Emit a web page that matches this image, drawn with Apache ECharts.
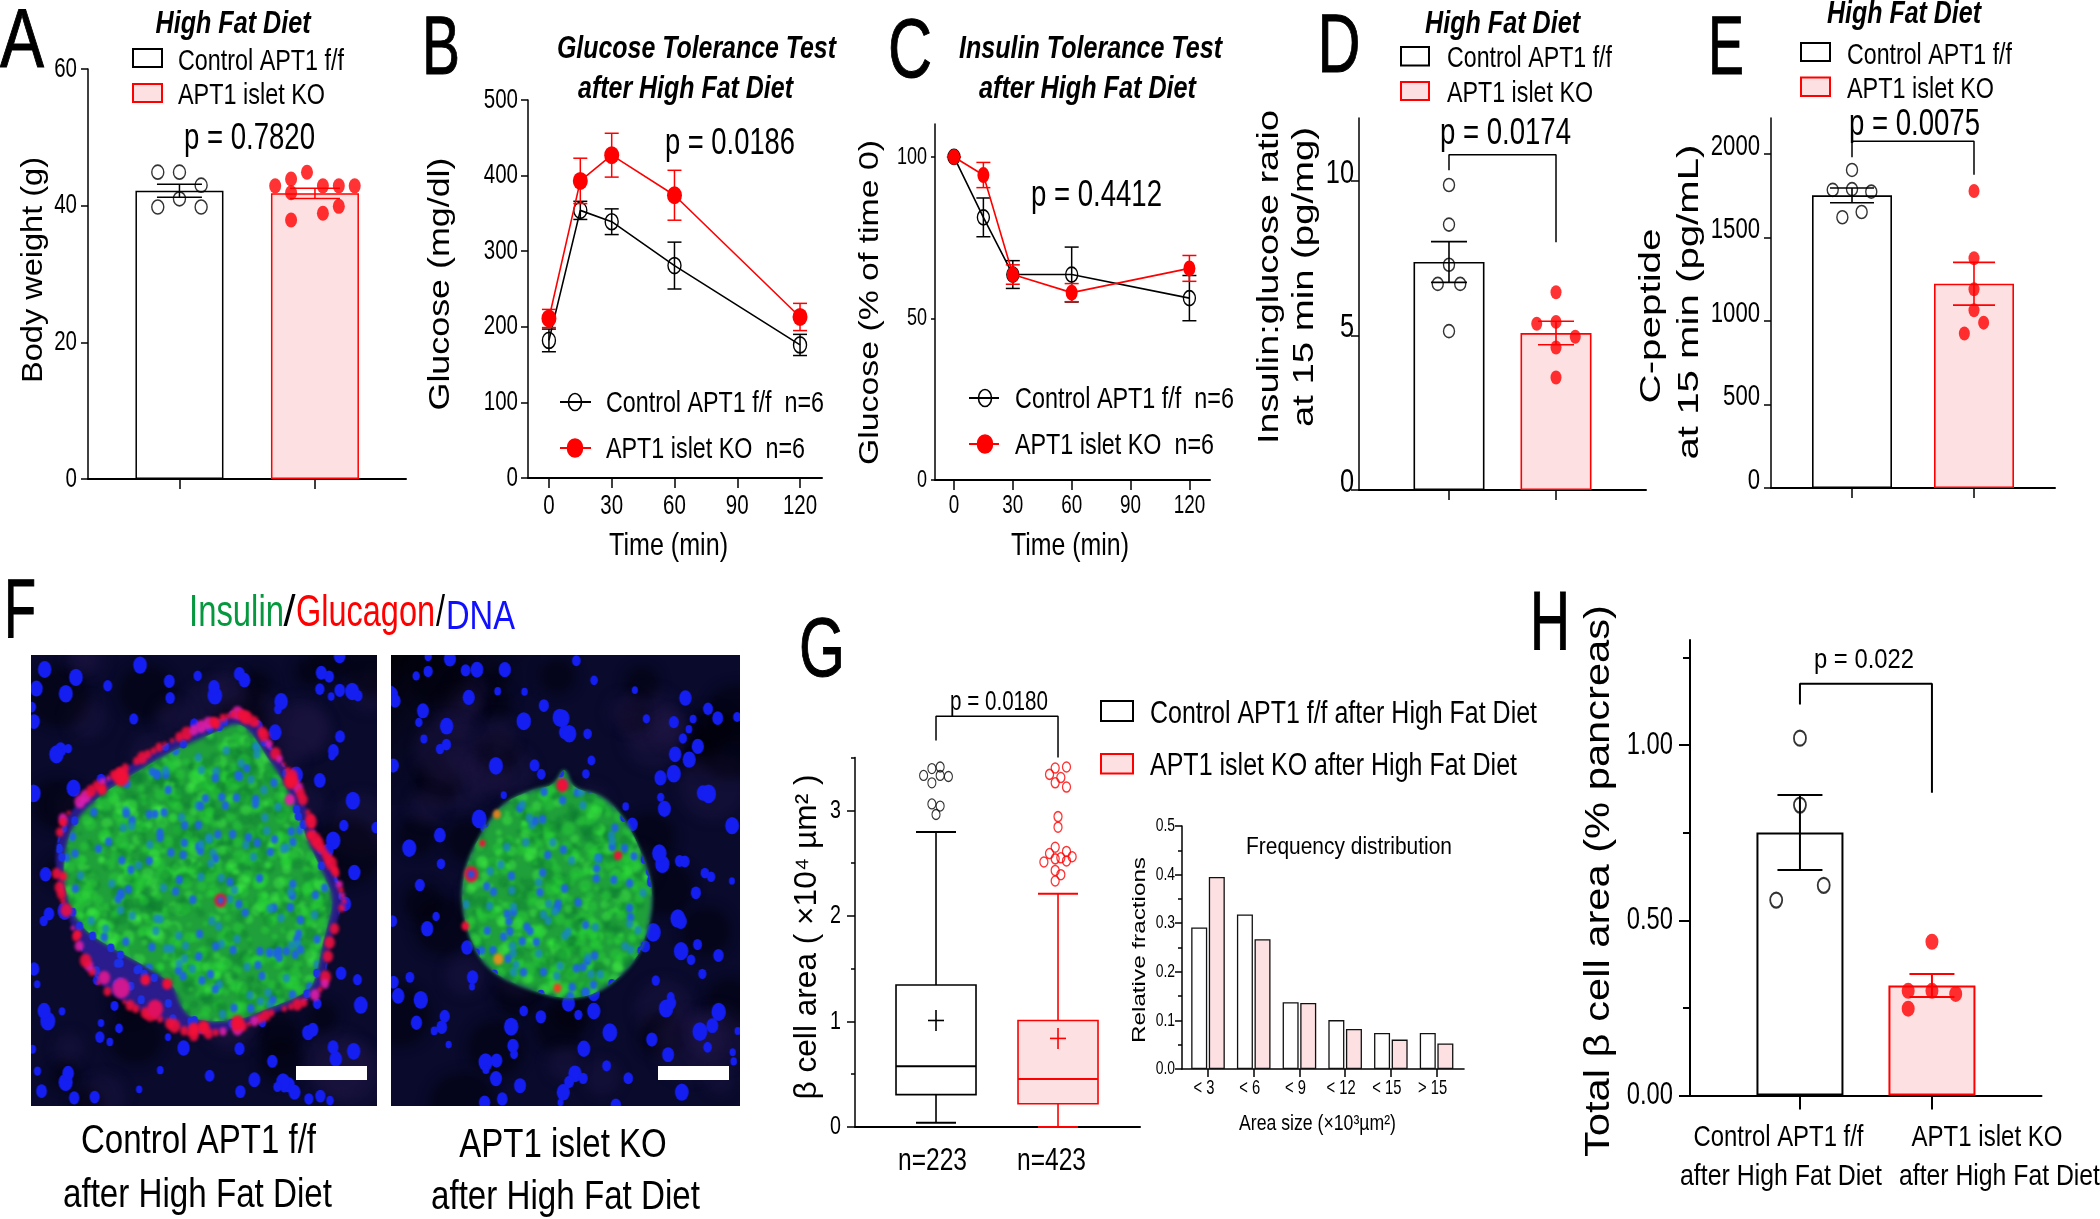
<!DOCTYPE html>
<html><head><meta charset="utf-8">
<style>html,body{margin:0;padding:0;background:#fff}#c{width:2100px;height:1219px}</style>
<script src="https://cdn.jsdelivr.net/npm/echarts@6/dist/echarts.min.js"></script>
</head><body><div id="c"></div>
<script>
// ---------- Data ----------
const groupLabels = ['Control APT1 f/f', 'APT1 islet KO'];
// A: body weight
const aBars = [42.2, 41.8];
const aErr = [0.95, 0.75];
const aCtrlPts = [44.9, 44.9, 43, 41, 39.8, 39.8];
const aCtrlSlots = [-1, 0, 1, 0, -1, 1];
const aKoPts = [44.9, 43.9, 42.9, 42.9, 42.9, 42.9, 41.9, 39.9, 38.9, 37.9];
const aKoSlots = [-0.5, -1.5, -2.5, 0.5, 1.5, 2.5, -1.5, 1.5, 0.5, -1.5];
// B: glucose tolerance
const times = [0, 15, 30, 60, 120];
const bCtrl = [182, 354, 339, 281, 176];
const bCtrlErr = [15, 12, 17, 31, 14];
const bKo = [211, 393, 427, 374, 213];
const bKoErr = [12, 30, 29, 33, 18];
// C: insulin tolerance
const cCtrl = [100, 81.3, 63.6, 63.6, 56.3];
const cCtrlErr = [0, 6, 4.3, 8.5, 7];
const cKo = [100, 94.4, 63.6, 58, 65.5];
const cKoErr = [0, 3.9, 3, 2.8, 4];
// D: insulin:glucose ratio
const dBars = [7.38, 5.08];
const dErr = [0.66, 0.38];
const dCtrlPts = [9.87, 8.59, 7.29, 6.67, 6.67, 5.14];
const dCtrlSlots = [0, 0, 0, -1, 1, 0];
const dKoPts = [6.4, 5.38, 5.44, 4.96, 4.61, 3.64];
const dKoSlots = [0, -1, 0, 1, 0, 0];
// E: C-peptide
const eBars = [1752, 1223];
const eErr = [44, 128];
const eCtrlPts = [1904, 1789, 1785, 1774, 1652, 1621];
const eCtrlSlots = [0, 0, -1, 1, 0.5, -0.5];
const eKoPts = [1778, 1375, 1190, 1064, 990, 925];
const eKoSlots = [0, 0, 0, 0, 0.5, -0.5];
// G: box plots [low whisker, Q1, median, Q3, high whisker, mean]
const gCtrlBox = [0.04, 0.307, 0.575, 1.345, 2.795, 1.009];
const gKoBox = [0, 0.22, 0.455, 1.009, 2.21, 0.839];
const gCtrlOut = [3.395, 3.41, 3.33, 3.33, 3.32, 3.26, 3.06, 3.04, 2.96];
const gCtrlOutSlots = [-1, 1, -3, 1, 3, -1, -1, 1, 0];
const gKoOut = [3.4, 3.41, 3.34, 3.31, 3.26, 3.22, 2.94, 2.84, 2.65, 2.59, 2.61, 2.56, 2.55, 2.54, 2.51, 2.52, 2.43, 2.39, 2.33];
const gKoOutSlots = [-0.5, 1.5, -1.5, 0.5, -0.5, 1.5, 0, 0, -0.5, -1.5, 1.5, 2.5, 0.5, -0.5, -2.5, 1.5, -0.5, 0.5, -0.5];
// G inset: frequency distribution
const freqBins = ['< 3', '< 6', '< 9', '< 12', '< 15', '> 15'];
const freqCtrl = [0.291, 0.318, 0.1376, 0.1006, 0.074, 0.074];
const freqKo = [0.395, 0.267, 0.136, 0.0825, 0.0605, 0.0527];
// H: total beta cell area
const hBars = [0.751, 0.314];
const hErr = [0.107, 0.033];
const hCtrlPts = [1.02, 0.829, 0.6, 0.558];
const hCtrlSlots = [0, 0, 1, -1];
const hKoPts = [0.439, 0.299, 0.299, 0.29, 0.248];
const hKoSlots = [0, -1, 0, 1, -1];

// ---------- Styles ----------
const RED = '#ff0000', PINK = '#fde0e2', BLACK = '#000';
const SANS = 'Liberation Sans';
const NARROW_RATIO = 0.745, TICK_GROW = 1.1;

const option = {animation: false, backgroundColor: '#fff', grid: [], xAxis: [], yAxis: [], series: [], graphic: {elements: []}};
const G = option.graphic.elements;
const mctx = document.createElement('canvas').getContext('2d');

function txt(text, cx, cy, size, width, o) {
  o = o || {};
  const style = o.italic ? 'italic' : 'normal', weight = o.bold ? 'bold' : 'normal';
  const fs = o.rot || o.letter ? size : size * 1.07;
  mctx.font = style + ' ' + weight + ' ' + fs + 'px "' + SANS + '"';
  const sx = width ? width / mctx.measureText(text).width : 1;
  const dy = o.rot ? 0 : size * 0.08;
  const st = {text: text, fill: o.color || BLACK, fontFamily: SANS, fontSize: fs, fontStyle: style, fontWeight: weight, align: 'center', verticalAlign: 'middle'};
  if (o.letter) { st.stroke = BLACK; st.lineWidth = 1; }
  G.push({type: 'text', x: cx, y: cy + dy, rotation: o.rot ? Math.PI / 2 : 0, scaleX: sx, z: 50, silent: true, style: st});
}
function box(x1, y1, x2, y2, red) {
  G.push({type: 'rect', z: 50, silent: true, shape: {x: x1, y: y1, width: x2 - x1, height: y2 - y1},
    style: {fill: red ? PINK : '#fff', stroke: red ? RED : BLACK, lineWidth: 2}});
}
function lineKey(x1, x2, cx, y, red) {
  const c = red ? RED : BLACK;
  G.push({type: 'line', z: 50, silent: true, shape: {x1: x1, y1: y, x2: x2, y2: y}, style: {stroke: c, lineWidth: 2}});
  G.push({type: 'ellipse', z: 51, silent: true, shape: {cx: cx, cy: y, rx: red ? 7.5 : 6.5, ry: red ? 9 : 8.5},
    style: {fill: red ? RED : 'transparent', stroke: c, lineWidth: 1.6}});
}
function base(gi) { return {xAxisIndex: gi, yAxisIndex: gi, silent: true}; }

// Tick labels go through the axis scales but are condensed like the original's narrow face.
function tickText(gi, dim, values, labels, fontSize, ox, oy, align, xmin, ymin) {
  option.series.push(Object.assign(base(gi), {type: 'custom', z: 20, clip: false, encode: {x: 0, y: 1},
    data: values.map(function (v) { return dim === 'y' ? [xmin, v] : [v, ymin]; }),
    renderItem: function (p, api) {
      const q = api.coord([api.value(0), api.value(1)]);
      return {type: 'text', x: q[0] + ox, y: q[1] + oy, scaleX: NARROW_RATIO,
        style: {text: labels[p.dataIndex], fill: BLACK, fontFamily: SANS, fontSize: fontSize * TICK_GROW, align: align, verticalAlign: 'middle'}};
    }}));
}

function panel(c) {
  const gi = option.grid.length;
  const rect = {left: c.l, top: c.t, width: c.r - c.l, height: c.b - c.t};
  option.grid.push(rect);
  const lw = c.lw || 1.5;
  const ymin = c.ymin || 0;
  option.xAxis.push({gridIndex: gi, type: 'value', min: c.xmin, max: c.xmax, splitLine: {show: false},
    axisLine: {onZero: false, lineStyle: {color: BLACK, width: c.xlw || 2}},
    axisTick: {show: !!c.xTicks, customValues: c.xTicks, length: c.xTickLen || 10, lineStyle: {color: BLACK, width: lw}},
    axisLabel: {show: false}});
  option.yAxis.push({gridIndex: gi, type: 'value', min: ymin, max: c.ymax, splitLine: {show: false},
    axisLine: {onZero: false, lineStyle: {color: BLACK, width: lw}},
    axisTick: {show: true, customValues: c.yMajor, length: c.yTickLen || 7, lineStyle: {color: BLACK, width: lw}},
    axisLabel: {show: false}});
  if (c.yMinor) {
    const gm = option.grid.length;
    option.grid.push(Object.assign({}, rect));
    option.xAxis.push({gridIndex: gm, type: 'value', min: c.xmin, max: c.xmax, show: false});
    option.yAxis.push({gridIndex: gm, type: 'value', min: ymin, max: c.ymax, splitLine: {show: false},
      axisLine: {show: false}, axisLabel: {show: false},
      axisTick: {show: true, customValues: c.yMinor, length: c.yMinorLen || 4, lineStyle: {color: BLACK, width: lw}}});
  }
  const fmt = c.yFmt || function (v) { return '' + v; };
  tickText(gi, 'y', c.yMajor, c.yMajor.map(fmt), c.yFont, -c.yMargin, c.yShift || 0, 'right', c.xmin, ymin);
  if (c.xLabels) {
    const lab = c.xLabels === true ? c.xTicks.map(String) : c.xLabels;
    tickText(gi, 'x', c.xTicks, lab, c.xFont, c.xShift || 0, c.xOffset, 'center', c.xmin, ymin);
  }
  return gi;
}
function bars(gi, vals, w, lw, xs) {
  option.series.push(Object.assign(base(gi), {type: 'bar', barWidth: w, z: 2,
    data: vals.map(function (v, i) {
      const red = i === 1;
      return {value: [xs ? xs[i] : i + 1, v], itemStyle: {color: red ? PINK : '#fff', borderColor: red ? RED : BLACK, borderWidth: lw}};
    })}));
}
function errs(gi, xs, vals, es, color, capPx, lw, z) {
  option.series.push(Object.assign(base(gi), {type: 'custom', z: z || 4, clip: false, encode: {x: 0, y: 1},
    data: vals.map(function (v, i) { return [xs[i], v, es[i]]; }),
    renderItem: function (p, api) {
      const x = api.value(0), m = api.value(1), e = api.value(2);
      const hi = api.coord([x, m + e]), lo = api.coord([x, m - e]);
      const st = {stroke: color, lineWidth: lw, fill: 'none'};
      const seg = function (x1, y1, x2, y2) { return {type: 'line', shape: {x1: x1, y1: y1, x2: x2, y2: y2}, style: st}; };
      return {type: 'group', children: [seg(hi[0], hi[1], lo[0], lo[1]),
        seg(hi[0] - capPx / 2, hi[1], hi[0] + capPx / 2, hi[1]), seg(lo[0] - capPx / 2, lo[1], lo[0] + capPx / 2, lo[1])]};
    }}));
}
function dots(gi, center, step, vals, slots, red, size, lw) {
  option.series.push(Object.assign(base(gi), {type: 'scatter', z: 5, symbol: 'circle', symbolSize: size,
    data: vals.map(function (v, i) { return [center + slots[i] * step, v]; }),
    itemStyle: red ? {color: RED, borderWidth: 0} : {color: 'transparent', borderColor: BLACK, borderWidth: lw || 1.5}}));
}
function bracket(gi, x1, y1, top, x2, y2, lw) {
  option.series.push(Object.assign(base(gi), {type: 'line', z: 6, clip: false, symbol: 'none', showSymbol: false,
    lineStyle: {color: BLACK, width: lw || 1.5}, data: [[x1, y1], [x1, top], [x2, top], [x2, y2]]}));
}
function curve(gi, vals, es, red, size) {
  const c = red ? RED : BLACK;
  errs(gi, times, vals, es, c, 14, 1.5, red ? 7 : 4);
  option.series.push(Object.assign(base(gi), {type: 'line', z: red ? 8 : 5, symbol: 'circle', symbolSize: size, showAllSymbol: true,
    lineStyle: {color: c, width: 1.6},
    itemStyle: red ? {color: RED, borderWidth: 0} : {color: 'transparent', borderColor: BLACK, borderWidth: 1.5},
    data: vals.map(function (v, i) { return [times[i], v]; })}));
}

// ---------- A ----------
let g = panel({l: 88, r: 406, t: 69, b: 479, xmin: 0.325, xmax: 2.672, ymax: 60, yMajor: [0, 20, 40, 60], yFont: 25, yMargin: 11, xTicks: [1, 2]});
bars(g, aBars, 88, 1.5);
errs(g, [1], [aBars[0]], [aErr[0]], BLACK, 45, 1.5);
errs(g, [2], [aBars[1]], [aErr[1]], RED, 50, 1.5);
dots(g, 1, 0.16, aCtrlPts, aCtrlSlots, false, [12, 14]);
dots(g, 2, 0.1174, aKoPts, aKoSlots, true, [12, 15]);
txt('Body weight (g)', 34, 270, 29, 226, {rot: true});
txt('A', 22, 37, 84, 44, {letter: true});
txt('High Fat Diet', 233, 22, 29, 155, {bold: true, italic: true});
box(133, 49, 162, 67); box(133, 84, 162, 102, true);
txt(groupLabels[0], 261, 60, 28, 166); txt(groupLabels[1], 251.5, 94, 28, 147);
txt('p = 0.7820', 249.5, 136, 34, 131);

// ---------- B ----------
g = panel({l: 528, r: 822, t: 100, b: 478, xmin: -10, xmax: 130.5, ymax: 500, yMajor: [0, 100, 200, 300, 400, 500], yFont: 25, yMargin: 10,
  xTicks: [0, 30, 60, 90, 120], xLabels: true, xFont: 25, xOffset: 28.5});
curve(g, bCtrl, bCtrlErr, false, [13, 16]);
curve(g, bKo, bKoErr, true, [15, 18]);
txt('Glucose (mg/dl)', 441, 284, 30, 253, {rot: true});
txt('B', 441, 44, 84, 38, {letter: true});
txt('Glucose Tolerance Test', 696.5, 47, 30, 279, {bold: true, italic: true});
txt('after High Fat Diet', 685.5, 86.5, 30, 215, {bold: true, italic: true});
txt('p = 0.0186', 730, 141, 34, 130);
lineKey(560, 591, 575, 402, false); lineKey(560, 591, 575, 448, true);
txt(groupLabels[0] + '  n=6', 715, 402, 28, 218); txt(groupLabels[1] + '  n=6', 705.5, 448, 28, 199);
txt('Time (min)', 668.5, 544, 29, 119);

// ---------- C ----------
g = panel({l: 935, r: 1210, t: 124, b: 480, xmin: -9.66, xmax: 130.5, ymax: 110.2, yMajor: [0, 50, 100], yFont: 22, yMargin: 8, yTickLen: 4,
  xTicks: [0, 30, 60, 90, 120], xLabels: true, xFont: 23, xOffset: 26.5});
curve(g, cCtrl, cCtrlErr, false, [12, 15]);
curve(g, cKo, cKoErr, true, [12, 16]);
txt('Glucose (% of time 0)', 870, 302.5, 28, 325, {rot: true});
txt('C', 910, 47, 84, 44, {letter: true});
txt('Insulin Tolerance Test', 1090.5, 47, 30, 263, {bold: true, italic: true});
txt('after High Fat Diet', 1087.5, 86.5, 30, 217, {bold: true, italic: true});
txt('p = 0.4412', 1096.5, 193.5, 34, 131);
lineKey(969, 999, 985, 398, false); lineKey(969, 999, 985, 444, true);
txt(groupLabels[0] + '  n=6', 1124.5, 398, 28, 219); txt(groupLabels[1] + '  n=6', 1114.5, 444, 28, 199);
txt('Time (min)', 1070, 544, 29, 118);

// ---------- D ----------
g = panel({l: 1359, r: 1646, t: 118, b: 490, xmin: 0.159, xmax: 2.841, ymax: 12.04, yMajor: [0, 5, 10], yFont: 31, yMargin: 5, yShift: -7.5, yTickLen: 8, xTicks: [1, 2]});
bars(g, dBars, 71, 1.6);
errs(g, [1], [dBars[0]], [dErr[0]], BLACK, 36, 1.6);
errs(g, [2], [dBars[1]], [dErr[1]], RED, 36, 1.6);
dots(g, 1, 0.105, dCtrlPts, dCtrlSlots, false, [11, 13]);
dots(g, 2, 0.18, dKoPts, dKoSlots, true, [11, 14]);
bracket(g, 1, 10.35, 10.85, 2, 8.02);
txt('Insulin:glucose ratio', 1270, 277, 29, 334, {rot: true});
txt('at 15 min (pg/mg)', 1305, 277, 29, 300, {rot: true});
txt('D', 1339, 42, 84, 43, {letter: true});
txt('High Fat Diet', 1502.5, 22, 29, 155, {bold: true, italic: true});
box(1401, 47, 1429, 65.5); box(1401, 82, 1429, 100, true);
txt(groupLabels[0], 1529.5, 57, 28, 165); txt(groupLabels[1], 1520, 92, 28, 146);
txt('p = 0.0174', 1505.5, 131, 34, 131);

// ---------- E ----------
g = panel({l: 1771, r: 2055, t: 118, b: 488, xmin: 0.336, xmax: 2.664, ymax: 2215, yMajor: [0, 500, 1000, 1500, 2000], yFont: 27, yMargin: 11, yShift: -7.5, xTicks: [1, 2]});
bars(g, eBars, 80, 1.6);
errs(g, [1], [eBars[0]], [eErr[0]], BLACK, 44, 1.6);
errs(g, [2], [eBars[1]], [eErr[1]], RED, 42, 1.6);
dots(g, 1, 0.158, eCtrlPts, eCtrlSlots, false, [11, 13]);
dots(g, 2, 0.158, eKoPts, eKoSlots, true, [11, 14]);
bracket(g, 1, 1980, 2076, 2, 1876);
txt('C-peptide', 1652, 316, 30, 175, {rot: true});
txt('at 15 min (pg/mL)', 1690, 302, 29, 315, {rot: true});
txt('E', 1726, 44, 84, 36, {letter: true});
txt('High Fat Diet', 1904, 12, 29, 154, {bold: true, italic: true});
box(1801, 43, 1830, 61); box(1801, 77.5, 1830, 96, true);
txt(groupLabels[0], 1929.5, 53.5, 28, 165); txt(groupLabels[1], 1920.5, 88, 28, 147);
txt('p = 0.0075', 1914.5, 122, 34, 131);

// ---------- G main ----------
g = panel({l: 855, r: 1140, t: 757.5, b: 1127, xmin: 0.336, xmax: 2.672, ymax: 3.5, yMajor: [0, 1, 2, 3], yMinor: [0.5, 1.5, 2.5, 3.5], yFont: 24, yMargin: 14, yTickLen: 8, yMinorLen: 4});
function boxPlot(gi, x, stats, color, fill) {
  option.series.push(Object.assign(base(gi), {type: 'custom', z: 4, encode: {x: 0, y: 3},
    data: [[x].concat(stats)],
    renderItem: function (p, api) {
      const cx = api.value(0);
      const Y = function (i) { return api.coord([cx, api.value(i)]); };
      const c = Y(1)[0], lo = Y(1)[1], q1 = Y(2)[1], med = Y(3)[1], q3 = Y(4)[1], hi = Y(5)[1], mean = Y(6)[1];
      const st = {stroke: color, lineWidth: 1.6, fill: 'none'};
      const seg = function (x1, y1, x2, y2, lw) { return {type: 'line', shape: {x1: x1, y1: y1, x2: x2, y2: y2}, style: Object.assign({}, st, lw ? {lineWidth: lw} : {})}; };
      return {type: 'group', children: [
        seg(c, hi, c, q3), seg(c, q1, c, lo), seg(c - 20, hi, c + 20, hi, 2), seg(c - 20, lo, c + 20, lo, 2),
        {type: 'rect', shape: {x: c - 40, y: q3, width: 80, height: q1 - q3}, style: {fill: fill, stroke: color, lineWidth: 1.6}},
        seg(c - 40, med, c + 40, med, 2), seg(c - 8, mean, c + 8, mean), seg(c, mean - 10.5, c, mean + 10.5)]};
    }}));
}
boxPlot(g, 1, gCtrlBox, BLACK, '#fff');
boxPlot(g, 2, gKoBox, RED, PINK);
option.series.push(Object.assign(base(g), {type: 'scatter', z: 5, symbol: 'circle', symbolSize: [8, 10], data: gCtrlOut.map(function (v, i) { return [1 + gCtrlOutSlots[i] * 0.0339, v]; }), itemStyle: {color: 'transparent', borderColor: BLACK, borderWidth: 1.2}}));
option.series.push(Object.assign(base(g), {type: 'scatter', z: 5, symbol: 'circle', symbolSize: [8, 10], data: gKoOut.map(function (v, i) { return [2 + gKoOutSlots[i] * 0.0463, v]; }), itemStyle: {color: 'transparent', borderColor: RED, borderWidth: 1.4}}));
bracket(g, 1, 3.66, 3.89, 2, 3.5);
txt('\u03B2 cell area ( \u00D710\u2074 \u00B5m\u00B2 )', 807, 937, 31, 325, {rot: true});
txt('G', 822, 646, 84, 46, {letter: true});
txt('p = 0.0180', 999, 701, 25, 98);
txt('n=223', 932.5, 1159, 29, 69); txt('n=423', 1051.5, 1159, 29, 69);
box(1101, 701, 1133, 721); box(1101, 754, 1133, 773.5, true);
txt('Control APT1 f/f after High Fat Diet', 1343.5, 712, 30, 387);
txt('APT1 islet KO after High Fat Diet', 1333.5, 764, 30, 367);

// ---------- G inset ----------
g = panel({l: 1182, r: 1464, t: 826, b: 1069, xmin: 0.431, xmax: 6.6, ymax: 0.5, yMajor: [0, 0.1, 0.2, 0.3, 0.4, 0.5], yMinor: [0.05, 0.15, 0.25, 0.35, 0.45],
  yFont: 17, yMargin: 7, yFmt: function (v) { return v.toFixed(1); }, xTicks: [1, 2, 3, 4, 5, 6], xLabels: freqBins, xFont: 18, xOffset: 20, xShift: -4, xTickLen: 8, xlw: 1.6});
[[freqCtrl, '#fff'], [freqKo, PINK]].forEach(function (s) {
  option.series.push(Object.assign(base(g), {type: 'bar', z: 2, barWidth: 16, barGap: '10%',
    data: s[0].map(function (v, i) { return [i + 1, v]; }), itemStyle: {color: s[1], borderColor: '#111', borderWidth: 1.3}}));
});
txt('Frequency distribution', 1349, 845, 23, 206);
txt('Relative fractions', 1140, 950, 19, 186, {rot: true});
txt('Area size (\u00D710\u00B3\u00B5m\u00B2)', 1317.5, 1123, 20, 157);

// ---------- H ----------
g = panel({l: 1690, r: 2041.5, t: 640, b: 1095.6, xmin: 0.167, xmax: 2.83, ymax: 1.3, yMajor: [0, 0.5, 1], yMinor: [0.25, 0.75, 1.25], yFont: 29, yMargin: 17, yTickLen: 11, yMinorLen: 7,
  yFmt: function (v) { return v.toFixed(2); }, xTicks: [1, 2], xTickLen: 14, lw: 2});
bars(g, hBars, 87, 2);
errs(g, [1], [hBars[0]], [hErr[0]], BLACK, 45, 2);
errs(g, [2], [hBars[1]], [hErr[1]], RED, 45, 2);
dots(g, 1, 0.18, hCtrlPts, hCtrlSlots, false, [12, 15], 2);
dots(g, 2, 0.18, hKoPts, hKoSlots, true, [13, 16]);
bracket(g, 1, 1.116, 1.175, 2, 0.864, 2);
txt('Total \u03B2 cell area (% pancreas)', 1599, 881, 35, 552, {rot: true});
txt('H', 1550, 620, 84, 40, {letter: true});
txt('p = 0.022', 1864, 658, 26, 100);
txt(groupLabels[0], 1778.5, 1136, 28, 170); txt('after High Fat Diet', 1781, 1175, 28, 202);
txt(groupLabels[1], 1987, 1136, 28, 151); txt('after High Fat Diet', 1999.5, 1175, 28, 201);

// ---------- F: micrographs (painted illustration, no chart data) ----------
function hash(n) { const s = Math.sin(n * 12.9898 + 78.233) * 43758.5453; return s - Math.floor(s); }
function micrograph(w, h, offX, outline, core, redBlobs, rimCount, seed, dim) {
  const cv = document.createElement('canvas'); cv.width = Math.round(w); cv.height = Math.round(h);
  const c = cv.getContext('2d');
  const Z = function (p) { return [p[0] / 2.063 - offX, p[1] / 2.416 - 85]; };
  const mk = function (pts) {
    const path = new Path2D(), q = pts.map(Z), n = q.length;
    path.moveTo((q[n - 1][0] + q[0][0]) / 2, (q[n - 1][1] + q[0][1]) / 2);
    q.forEach(function (p, i) { const r = q[(i + 1) % n]; path.quadraticCurveTo(p[0], p[1], (p[0] + r[0]) / 2, (p[1] + r[1]) / 2); });
    path.closePath(); return path;
  };
  const path = mk(outline), corePath = mk(core);
  c.fillStyle = '#090a2c'; c.fillRect(0, 0, w, h);
  if (dim) { const gr = c.createLinearGradient(0, 0, 110, 110); gr.addColorStop(0, '#010106'); gr.addColorStop(1, 'rgba(9,10,44,0)'); c.fillStyle = gr; c.fillRect(0, 0, 150, 150); }
  // faint acinar texture
  c.filter = 'blur(6px)';
  for (let i = 0; i < 60; i++) {
    c.fillStyle = hash(seed + i * 3.1) < 0.5 ? 'rgba(0,0,8,0.5)' : 'rgba(32,22,70,0.4)';
    c.beginPath(); c.arc(hash(seed + i * 1.7) * w, hash(seed + i * 2.3) * h, 12 + hash(seed + i) * 22, 0, 7); c.fill();
  }
  // acinar nuclei
  c.filter = 'blur(0.7px)';
  c.fillStyle = '#141ef0';
  for (let i = 0; i < 170; i++) {
    const x = hash(seed + i * 7.13) * w, y = hash(seed + i * 3.77 + 9.1) * h;
    if (c.isPointInPath(path, x, y)) continue;
    const r = 3 + hash(seed + i * 5.3) * 4.5;
    c.beginPath(); c.ellipse(x, y, r, r * 1.25, 0, 0, 7); c.fill();
  }
  // islet periphery
  c.save(); c.filter = 'blur(1.5px)'; c.fillStyle = '#2a1c8c'; c.fill(path); c.restore();
  // beta-cell core
  c.save(); c.filter = 'blur(2px)'; c.fillStyle = '#20a03a'; c.fill(corePath); c.restore();
  c.save(); c.clip(corePath); c.filter = 'blur(1.6px)';
  for (let i = 0; i < 2600; i++) {
    const x = hash(seed + i * 1.37) * w, y = hash(seed + i * 2.91 + 4.4) * h, r = 2 + hash(seed + i * 0.73) * 5, v = hash(seed + i * 4.19);
    c.fillStyle = v < 0.45 ? 'rgba(40,215,55,0.42)' : v < 0.8 ? 'rgba(12,120,50,0.36)' : 'rgba(70,245,70,0.4)';
    c.beginPath(); c.arc(x, y, r, 0, 7); c.fill();
  }
  c.filter = 'blur(0.8px)';
  for (let i = 0; i < 1500; i++) {
    const x = hash(seed + i * 6.31 + 1.1) * w, y = hash(seed + i * 8.17 + 2.2) * h;
    if (i % 3 || !c.isPointInPath(corePath, x, y)) continue;
    c.fillStyle = hash(seed + i * 2.1) < 0.6 ? 'rgba(30,100,225,0.95)' : 'rgba(25,135,195,0.8)';
    c.beginPath(); c.ellipse(x, y, 3.6, 4.4, 0, 0, 7); c.fill();
  }
  c.restore();
  // periphery nuclei
  c.save(); c.clip(path); c.filter = 'blur(0.7px)'; c.fillStyle = '#1c30e8';
  for (let i = 0; i < 900; i++) {
    const x = hash(seed + i * 9.91) * w, y = hash(seed + i * 5.57 + 7.7) * h;
    if (c.isPointInPath(corePath, x, y)) continue;
    c.beginPath(); c.ellipse(x, y, 3.6, 4.4, 0, 0, 7); c.fill();
  }
  c.restore();
  // glucagon cells scattered along the rim
  c.save(); c.filter = 'blur(1.4px)';
  for (let i = 0; i < rimCount; i++) {
    const k = i / rimCount * outline.length, a = Math.floor(k), t = k - a;
    const A = Z(outline[a % outline.length]), B = Z(outline[(a + 1) % outline.length]);
    const v = hash(seed + i * 2.7);
    if (v < 0.28) continue;
    c.fillStyle = v < 0.85 ? 'rgba(240,15,60,0.9)' : 'rgba(225,30,170,0.9)';
    const r = 2 + hash(seed + i * 3.3) * 4;
    c.beginPath(); c.ellipse(A[0] + (B[0] - A[0]) * t, A[1] + (B[1] - A[1]) * t, r, r * 1.2, 0, 0, 7); c.fill();
  }
  c.restore();
  c.save(); c.filter = 'blur(1.5px)';
  redBlobs.forEach(function (b) {
    const q = Z(b);
    c.fillStyle = b[3] || '#f01038';
    c.beginPath(); c.ellipse(q[0], q[1], b[2], b[2] * 1.15, 0, 0, 7); c.fill();
  });
  c.restore();
  return cv;
}
const islet1 = [[490,345],[530,370],[560,430],[610,510],[640,600],[650,650],[690,720],[710,800],[680,900],[670,1000],[640,1040],[560,1070],[490,1110],[400,1125],[340,1090],[280,1060],[210,1010],[170,930],[130,800],[110,700],[130,600],[200,520],[270,470],[340,420],[430,370]];
const core1 = [[490,1090],[400,1090],[370,1050],[360,1000],[290,950],[210,900],[165,860],[135,790],[130,700],[150,610],[210,540],[280,490],[350,440],[440,395],[490,365],[520,395],[550,450],[590,520],[620,610],[640,670],[670,740],[690,800],[665,900],[650,1000],[620,1030],[550,1060]];
const islet2 = [[1165,470],[1180,530],[1240,540],[1290,600],[1330,700],[1350,790],[1330,900],[1300,960],[1240,1020],[1170,1040],[1080,1010],[1010,970],[970,900],[950,800],[960,710],[1000,620],[1040,560],[1100,530],[1145,520]];
const blobs1 = [[250,500,8],[600,510,7],[445,370,5],[640,640,4],[690,725,4],[598,555,5,'#e020a0'],[250,1010,9,'#d01890'],[215,985,6,'#d01890'],[320,1060,8,'#e01060'],[300,990,5],[345,1000,5],[420,1105,6],[490,1095,7],[400,1110,6],[130,610,4],[130,740,4],[160,880,4],[455,798,6],[455,798,3.2,'#2060d0'],[210,530,5]];
const blobs2 = [[1160,520,6],[972,735,7],[972,735,3.5,'#2050e0'],[1025,590,4,'#e08020'],[1028,940,5,'#e09020'],[1275,690,4],[1150,1010,4,'#f04020'],[960,860,4],[995,660,3]];
const photos = [[30.5, 655, 346, 451, micrograph(346, 451, 30.5, islet1, core1, blobs1, 150, 11.3, false), 296],
                [390.7, 655, 349, 451, micrograph(349, 451, 390.7, islet2, islet2, blobs2, 0, 47.9, true), 658]];
photos.forEach(function (p) {
  G.push({type: 'image', x: p[0], y: p[1], z: 1, silent: true, style: {image: p[4], width: p[2], height: p[3]}});
  G.push({type: 'rect', z: 2, silent: true, shape: {x: p[5], y: 1066, width: 71, height: 14}, style: {fill: '#fff'}});
});
txt('F', 20, 607, 84, 32, {letter: true});
txt('Insulin', 236.5, 611, 41, 95, {color: '#06983f'});
txt('/', 289.5, 611, 41, 12);
txt('Glucagon', 365.5, 611, 41, 139, {color: RED});
txt('/', 440.5, 611, 41, 9);
txt('DNA', 480.5, 615, 38, 69, {color: '#1010ff'});
txt(groupLabels[0], 198.5, 1139, 38, 235); txt('after High Fat Diet', 197.5, 1193, 38, 269);
txt(groupLabels[1], 563, 1143, 38, 207.5); txt('after High Fat Diet', 565.5, 1195, 38, 269);

const chart = echarts.init(document.getElementById('c'), null, {width: 2100, height: 1219, renderer: 'canvas'});
chart.setOption(option);
</script>
</body></html>
